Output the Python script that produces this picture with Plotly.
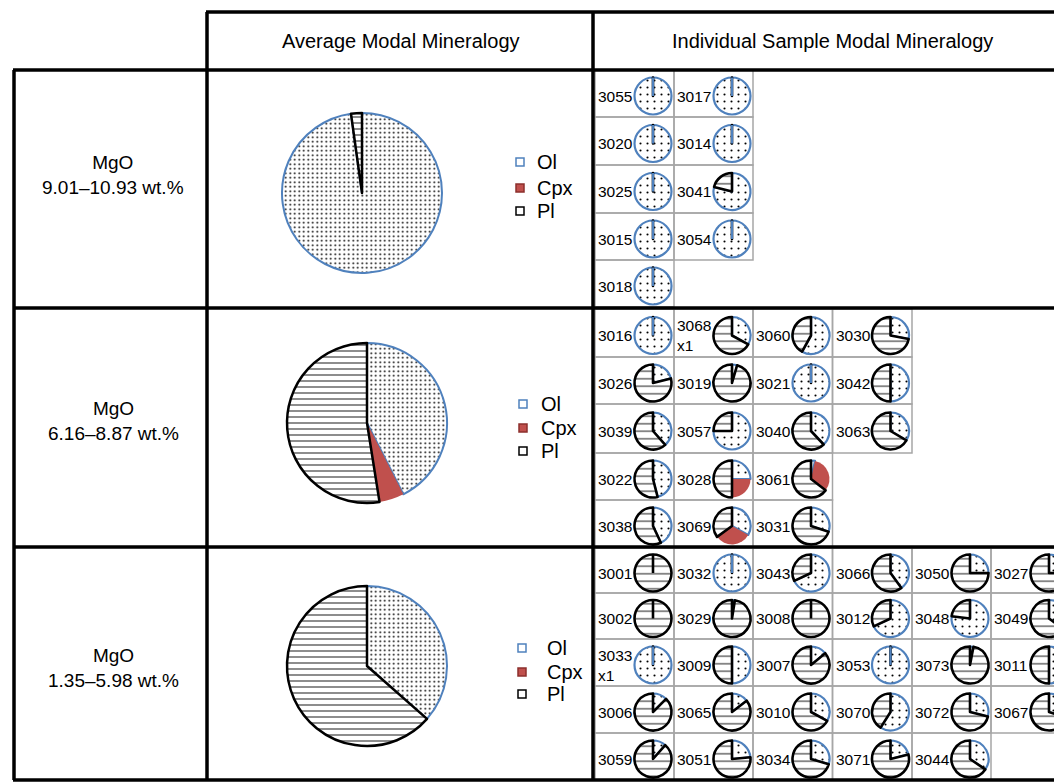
import plotly.graph_objects as go

# ---------------- data ----------------
minerals = ["Ol", "Cpx", "Pl"]
mgo_ranges = ["9.01–10.93 wt.%", "6.16–8.87 wt.%", "1.35–5.98 wt.%"]

avg_ol = [97.8, 42.5, 36.5]
avg_cpx = [0.0, 5.0, 0.0]
avg_pl = [2.2, 52.5, 63.5]

# section 1 (MgO 9.01-10.93)
s1_rows = [2, 2, 2, 2, 1]
s1_ids = ["3055", "3017", "3020", "3014", "3025", "3041", "3015", "3054", "3018"]
s1_ol = [100, 100, 100, 100, 100, 79, 100, 100, 100]
s1_cpx = [0, 0, 0, 0, 0, 0, 0, 0, 0]
s1_pl = [0, 0, 0, 0, 0, 21, 0, 0, 0]

# section 2 (MgO 6.16-8.87)
s2_rows = [4, 4, 4, 3, 3]
s2_ids = ["3016", "3068<br>x1", "3060", "3030",
          "3026", "3019", "3021", "3042",
          "3039", "3057", "3040", "3063",
          "3022", "3028", "3061",
          "3038", "3069", "3031"]
s2_ol = [100, 33, 58, 28, 21, 4.5, 100, 50, 38.5, 75, 38, 33.5, 46, 25, 3.5, 43, 33, 30]
s2_cpx = [0, 0, 0, 0, 0, 0, 0, 0, 0, 0, 0, 0, 0, 25, 32, 0, 32, 0]
s2_pl = [0, 67, 42, 72, 79, 95.5, 0, 50, 61.5, 25, 62, 66.5, 54, 50, 64.5, 57, 35, 70]

# section 3 (MgO 1.35-5.98)
s3_rows = [6, 6, 6, 6, 5]
s3_ids = ["3001", "3032", "3043", "3066", "3050", "3027",
          "3002", "3029", "3008", "3012", "3048", "3049",
          "3033<br>x1", "3009", "3007", "3053", "3073", "3011",
          "3006", "3065", "3010", "3070", "3072", "3067",
          "3059", "3051", "3034", "3071", "3044"]
s3_ol = [0, 100, 68, 40, 25, 25,
         0, 2.5, 0, 68, 77, 35,
         100, 50, 14, 100, 3, 50,
         12.5, 14.5, 33, 59, 29, 30,
         11.5, 23.5, 29.5, 21, 34.5]
s3_cpx = [0] * 29
s3_pl = [100, 0, 32, 60, 75, 75,
         100, 97.5, 100, 32, 23, 65,
         0, 50, 86, 0, 97, 50,
         87.5, 85.5, 67, 41, 71, 70,
         88.5, 76.5, 70.5, 79, 65.5]

# ---------------- layout constants ----------------
W, H = 1100, 784
FONT = "Liberation Sans, Arial, sans-serif"
BLUE = "#4F81BD"
RED = "#C0504D"
GRID = "#a6a6a6"

col_edges = [595, 674, 753, 832.5, 912, 991, 1070]
sec_row_edges = [
    [70, 117, 165, 213, 260, 307],
    [309, 357, 404, 453, 500, 547],
    [548, 593, 639, 686, 733, 780],
]
big_centers = [(362, 193), (367, 423), (367, 666)]
BIG_R = 80
SMALL_R = 18.5
label_y = [175, 421, 668]
legend_marker_x = [520, 523, 522]
legend_text_x = [535, 539, 545]
legend_y = [[162, 188, 211], [404, 428, 451], [648, 672, 694]]


def dom(cx, cy, r):
    return dict(x=[(cx - r) / W, (cx + r) / W], y=[1 - (cy + r) / H, 1 - (cy - r) / H])


def pie(cx, cy, r, vals, big):
    psize = [4.5, 1, 6] if big else [7, 1, 7.5]
    psol = [0.14, 0.5, 0.2] if big else [0.07, 0.5, 0.16]
    lw = [2, 0, 2.5] if big else [2.2, 0, 2.6]
    return go.Pie(
        values=list(vals), labels=minerals, domain=dom(cx, cy, r),
        sort=False, direction="clockwise", rotation=0,
        textinfo="none", showlegend=False, hoverinfo="label+percent",
        marker=dict(
            colors=["white", RED, "white"],
            line=dict(color=[BLUE, RED, "black"], width=lw),
            pattern=dict(shape=[".", "", "-"],
                         fgcolor=["black", RED, "#404040"],
                         bgcolor=["white", RED, "white"],
                         size=psize, solidity=psol, fillmode="replace"),
        ),
    )


fig = go.Figure()
shapes = []
annotations = []

# big pies + legends + labels
for k in range(3):
    cx, cy = big_centers[k]
    fig.add_trace(pie(cx, cy, BIG_R, (avg_ol[k], avg_cpx[k], avg_pl[k]), True))
    annotations.append(dict(x=113, y=label_y[k], text="MgO<br>" + mgo_ranges[k],
                            showarrow=False, xanchor="center", yanchor="middle",
                            align="center", font=dict(size=19, color="black", family=FONT)))
    fig.add_trace(go.Scatter(
        x=[legend_marker_x[k]] * 3, y=legend_y[k], mode="markers", showlegend=False,
        hoverinfo="skip",
        marker=dict(symbol="square", size=8, color=["white", RED, "white"],
                    line=dict(color=[BLUE, "#8c2f2c", "black"], width=1.5))))
    for i, m in enumerate(minerals):
        annotations.append(dict(x=legend_text_x[k], y=legend_y[k][i], text=m, showarrow=False,
                                xanchor="left", yanchor="middle",
                                font=dict(size=20, color="black", family=FONT)))

# small pies
sections = [
    (s1_rows, s1_ids, s1_ol, s1_cpx, s1_pl),
    (s2_rows, s2_ids, s2_ol, s2_cpx, s2_pl),
    (s3_rows, s3_ids, s3_ol, s3_cpx, s3_pl),
]
for si, (rows, ids, ol, cpx, pl) in enumerate(sections):
    edges = sec_row_edges[si]
    idx = 0
    for r, ncol in enumerate(rows):
        top, bot = edges[r], edges[r + 1]
        cy = (top + bot) / 2 + 2.5
        for c in range(ncol):
            left, right = col_edges[c], col_edges[c + 1]
            cx = left + 58
            shapes.append(dict(type="rect", xref="x", yref="y", x0=left, x1=right, y0=top, y1=bot,
                               line=dict(color=GRID, width=1.5), layer="below"))
            vals = (ol[idx], cpx[idx], pl[idx])
            fig.add_trace(pie(cx, cy, SMALL_R, vals, False))
            if vals[0] >= 100:
                shapes.append(dict(type="line", xref="x", yref="y", x0=cx, x1=cx, y0=cy, y1=cy - SMALL_R,
                                   line=dict(color=BLUE, width=2.2)))
            elif vals[2] >= 100:
                shapes.append(dict(type="line", xref="x", yref="y", x0=cx, x1=cx, y0=cy, y1=cy - SMALL_R,
                                   line=dict(color="black", width=2.6)))
            annotations.append(dict(x=left + 1, y=cy, text=ids[idx], showarrow=False,
                                    xanchor="left", yanchor="middle", align="left",
                                    font=dict(size=15.5, color="black", family=FONT)))
            idx += 1

# header texts
annotations.append(dict(x=401, y=41, text="Average Modal Mineralogy", showarrow=False,
                        xanchor="center", yanchor="middle", font=dict(size=20, color="black", family=FONT)))
annotations.append(dict(x=832, y=41, text="Individual Sample Modal Mineralogy", showarrow=False,
                        xanchor="center", yanchor="middle", font=dict(size=20, color="black", family=FONT)))

# thick table lines
TW = 3.5
thick = [
    (206, 12, W, 12), (13, 70, W, 70), (13, 308, W, 308), (13, 547, W, 547), (13, 780, W, 780),
    (14, 70, 14, 780), (207, 12, 207, 780), (593, 12, 593, 780),
]
for x0, y0, x1, y1 in thick:
    shapes.append(dict(type="line", xref="x", yref="y", x0=x0, y0=y0, x1=x1, y1=y1,
                       line=dict(color="black", width=TW)))

fig.update_layout(
    width=W, height=H, margin=dict(l=0, r=0, t=0, b=0),
    paper_bgcolor="white", plot_bgcolor="white",
    xaxis=dict(range=[0, W], visible=False, fixedrange=True),
    yaxis=dict(range=[H, 0], visible=False, fixedrange=True),
    shapes=shapes, annotations=annotations, showlegend=False,
    font=dict(family=FONT, color="black"),
)

fig.write_html("out.html", config={"displayModeBar": False},
               post_script="document.body.style.margin='0';document.body.style.overflow='hidden';")
